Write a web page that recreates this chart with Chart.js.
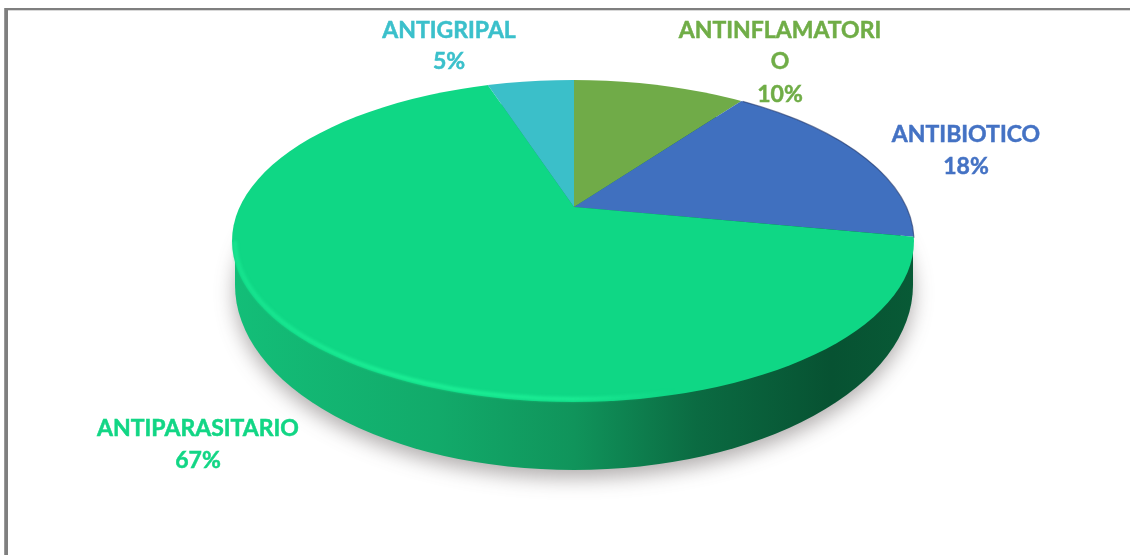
<!DOCTYPE html>
<html lang="es">
<head>
<meta charset="utf-8">
<title>Antibioticos</title>
<script src="https://cdn.jsdelivr.net/npm/chart.js@4"></script>
<style>
    html, body { margin: 0; padding: 0; background: #fff; }
    canvas { display: block; }
</style>
</head>
<body>
<canvas id="grafico" width="1130" height="555"></canvas>
<script>
// Datos, en sentido horario desde arriba
const categorias = ['ANTINFLAMATORIO', 'ANTIBIOTICO', 'ANTIPARASITARIO', 'ANTIGRIPAL'];
const porcentajes = [10, 18, 67, 5];
const colores = ['#70AB48', '#4070BF', '#0FD785', '#3BBFC9'];

// Cara superior y base del disco (elipses en pixeles de la pagina)
const cara = { x: 573, y: 241, rx: 341, ry: 161 };
const base = { x: 574, y: 285, rx: 339, ry: 185 };
const vertice = { x: 574, y: 207, escalaX: 1, escalaY: 0.46, radio: 430 };

// Etiquetas: lineas y centro de cada una
const etiquetas = [
    { lineas: ['ANTINFLAMATORI', 'O', '10%'], x: 780, y: [31, 62, 95], color: '#70AD47' },
    { lineas: ['ANTIBIOTICO', '18%'], x: 966, y: [135, 167], color: '#4472C4' },
    { lineas: ['ANTIPARASITARIO', '67%'], x: 198, y: [429, 461], color: '#12D685' },
    { lineas: ['ANTIGRIPAL', '5%'], x: 449, y: [31, 62], color: '#3BC0CB' }
];

function trazarElipse(ctx, e) {
    ctx.beginPath();
    ctx.ellipse(e.x, e.y, e.rx, e.ry, 0, 0, Math.PI * 2);
}

// Marco gris y lateral del disco, debajo de los sectores
const fondoDisco = {
    id: 'fondoDisco',
    beforeDatasetsDraw(chart) {
        const ctx = chart.ctx;
        ctx.save();
        ctx.fillStyle = '#d8d8d8';
        ctx.fillRect(4, 10, 1126, 1);
        ctx.fillStyle = '#7f7f7f';
        ctx.fillRect(4, 8, 1126, 2);
        ctx.fillStyle = '#9a9a9a';
        ctx.fillRect(4, 8, 1, 547);
        ctx.fillStyle = '#7f7f7f';
        ctx.fillRect(5, 8, 3, 547);

        const grad = ctx.createLinearGradient(base.x - base.rx, 0, base.x + base.rx, 0);
        grad.addColorStop(0, '#13BE78');
        grad.addColorStop(0.3, '#12AA6A');
        grad.addColorStop(0.5, '#10945B');
        grad.addColorStop(0.68, '#0B6B42');
        grad.addColorStop(0.88, '#075232');
        grad.addColorStop(1, '#085A36');

        ctx.shadowColor = 'rgba(60, 50, 50, 0.4)';
        ctx.shadowBlur = 20;
        ctx.shadowOffsetY = 8;
        ctx.fillStyle = grad;
        trazarElipse(ctx, base);
        ctx.fill();
        ctx.shadowColor = 'transparent';
        ctx.fillRect(base.x - base.rx, cara.y, base.rx * 2, base.y - cara.y);
        ctx.restore();
    },
    // Los sectores se aplastan y se recortan con la elipse de la cara
    beforeDatasetDraw(chart) {
        const ctx = chart.ctx;
        const arco = chart.getDatasetMeta(0).data[0];
        const k = vertice.radio / arco.outerRadius;
        ctx.save();
        trazarElipse(ctx, cara);
        ctx.clip();
        ctx.translate(vertice.x, vertice.y);
        ctx.scale(k * vertice.escalaX, k * vertice.escalaY);
        ctx.translate(-arco.x, -arco.y);
    },
    afterDatasetDraw(chart) {
        const ctx = chart.ctx;
        ctx.restore();
        ctx.save();

        // Brillo del borde inferior de la cara
        const brillo = ctx.createLinearGradient(cara.x - cara.rx, 0, cara.x + cara.rx, 0);
        brillo.addColorStop(0, 'rgba(28, 236, 150, 0.6)');
        brillo.addColorStop(0.25, 'rgba(28, 240, 150, 1)');
        brillo.addColorStop(0.5, 'rgba(28, 240, 150, 0.85)');
        brillo.addColorStop(0.65, 'rgba(28, 236, 150, 0)');
        ctx.strokeStyle = brillo;
        ctx.lineWidth = 4;
        ctx.filter = 'blur(1.5px)';
        ctx.beginPath();
        ctx.ellipse(cara.x, cara.y, cara.rx - 3, cara.ry - 3, 0, 0.1, Math.PI);
        ctx.stroke();
        ctx.filter = 'none';

        // Linea oscura en el borde del sector azul
        ctx.strokeStyle = 'rgba(35, 55, 105, 0.6)';
        ctx.lineWidth = 1.2;
        ctx.beginPath();
        ctx.ellipse(cara.x, cara.y, cara.rx, cara.ry, 0, -1.05, -0.02);
        ctx.stroke();
        ctx.restore();
    }
};

// Etiquetas como texto real
const textoEtiquetas = {
    id: 'textoEtiquetas',
    afterDraw(chart) {
        const ctx = chart.ctx;
        ctx.save();
        ctx.font = 'bold 23px Lato';
        ctx.textAlign = 'center';
        ctx.textBaseline = 'middle';
        ctx.lineWidth = 0.5;
        etiquetas.forEach(function (et) {
            ctx.fillStyle = et.color;
            ctx.strokeStyle = et.color;
            et.lineas.forEach(function (linea, i) {
                ctx.fillText(linea, et.x, et.y[i]);
                ctx.strokeText(linea, et.x, et.y[i]);
            });
        });
        ctx.restore();
    }
};

new Chart(document.getElementById('grafico'), {
    type: 'pie',
    data: {
        labels: categorias,
        datasets: [{
            data: porcentajes,
            backgroundColor: colores,
            borderWidth: 0
        }]
    },
    options: {
        responsive: false,
        animation: false,
        devicePixelRatio: 1,
        plugins: {
            legend: { display: false },
            tooltip: { enabled: false }
        }
    },
    plugins: [fondoDisco, textoEtiquetas]
});
</script>
</body>
</html>
